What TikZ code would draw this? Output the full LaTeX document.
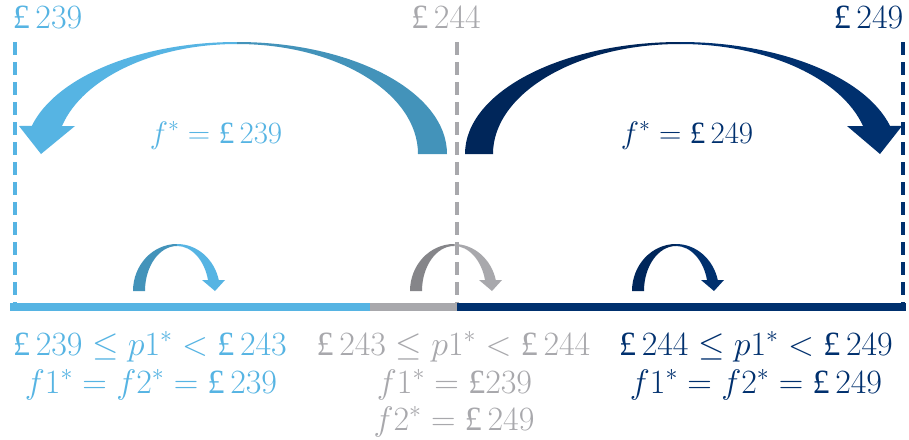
\documentclass[tikz,border=0pt]{standalone}
\usepackage{fix-cm}
\usepackage{fontspec}
\newfontfamily\gbpfont{Liberation Serif}
\newcommand\GBP{\mbox{\gbpfont £}}
\definecolor{lblue}{RGB}{86,180,227}
\definecolor{dblue}{RGB}{67,147,186}
\definecolor{lgray}{RGB}{168,168,172}
\definecolor{dgray}{RGB}{133,133,137}
\definecolor{navy}{RGB}{0,48,110}
\definecolor{dnavy}{RGB}{0,38,90}
\newcommand\smallcurl[3]{%
  \begin{scope}[shift={(#1,0)}]
    \fill[#2] (0,244) arc[start angle=270,end angle=180,x radius=44,y radius=47]
      -- (-32,291) arc[start angle=180,end angle=270,x radius=32,y radius=45] -- cycle;
    \fill[#3] (0,244) arc[start angle=270,end angle=346.5,x radius=43,y radius=47]
      -- (48,280) -- (38,291) -- (25,280) -- (31,280)
      arc[start angle=345.9,end angle=270,x radius=32,y radius=45] -- cycle;
  \end{scope}}
\tikzset{
  lbl/.style={anchor=base,inner sep=0pt,font=\fontsize{34}{38}\selectfont},
  flbl/.style={anchor=base,inner sep=0pt,font=\fontsize{31}{36}\selectfont},
  vdash/.style={line width=4pt,dash pattern=on 13pt off 7pt}
}
\begin{document}
\begin{tikzpicture}[x=1pt,y=-1pt]
\useasboundingbox[fill=white] (0,0) rectangle (909,439);
% big light-blue arrow
\fill[lblue] (237,42) arc[start angle=270,end angle=194.5,x radius=212,y radius=112]
  -- (19,126) -- (41,154) -- (75,126) -- (62,126)
  arc[start angle=194.75,end angle=270,x radius=181,y radius=110] -- cycle;
\fill[dblue] (237,42) arc[start angle=270,end angle=360,x radius=210,y radius=112]
  -- (418,154) arc[start angle=0,end angle=-90,x radius=181,y radius=110] -- cycle;
% big navy arrow
\fill[dnavy] (680,42) arc[start angle=270,end angle=180,x radius=215,y radius=112]
  -- (493,154) arc[start angle=180,end angle=270,x radius=187,y radius=110] -- cycle;
\fill[navy] (680,42) arc[start angle=270,end angle=345.5,x radius=217,y radius=112]
  -- (902,126) -- (880,154) -- (847,126) -- (863,126)
  arc[start angle=345.25,end angle=270,x radius=189,y radius=110] -- cycle;
% small arrows
\smallcurl{177}{dblue}{lblue}
\smallcurl{454}{dgray}{lgray}
\smallcurl{676}{dnavy}{navy}
% bar
\fill[lblue] (10,303) rectangle (370,311);
\fill[lgray] (370,303) rectangle (457,311);
\fill[navy] (457,303) rectangle (906,311);
% dashed lines
\coordinate (a1) at (15,42); \coordinate (a2) at (15,303);
\coordinate (b1) at (457,42); \coordinate (b2) at (457,303);
\coordinate (c1) at (903,42); \coordinate (c2) at (903,303);
\draw[vdash,lblue] (a1) -- (a2);
\draw[vdash,lgray] (b1) -- (b2);
\draw[vdash,navy] (c1) -- (c2);
% top labels
\node[lbl,text=lblue] (t1) at (47.5,28) {\GBP\,239};
\node[lbl,text=lgray] (t2) at (446,28) {\GBP\,244};
\node[lbl,text=navy] (t3) at (868.5,28) {\GBP\,249};
% f* labels
\node[flbl,text=lblue] (f1) at (216,143) {$f^{*} = \GBP\,239$};
\node[flbl,text=navy] (f2) at (687,143) {$f^{*} = \GBP\,249$};
% bottom labels
\node[lbl,text=lblue] (l1) at (150,355) {$\GBP\,239 \leq p1^{*} < \GBP\,243$};
\node[lbl,text=lblue] (l2) at (151,393) {$f1^{*} = f2^{*} = \GBP\,239$};
\node[lbl,text=lgray] (m1) at (453.5,355) {$\GBP\,243 \leq p1^{*} < \GBP\,244$};
\node[lbl,text=lgray] (m2) at (454.5,393) {$f1^{*} = \GBP239$};
\node[lbl,text=lgray] (m3) at (454,430) {$f2^{*} = \GBP\,249$};
\node[lbl,text=navy] (r1) at (756,355) {$\GBP\,244 \leq p1^{*} < \GBP\,249$};
\node[lbl,text=navy] (r2) at (756,393) {$f1^{*} = f2^{*} = \GBP\,249$};
\end{tikzpicture}
\end{document}
